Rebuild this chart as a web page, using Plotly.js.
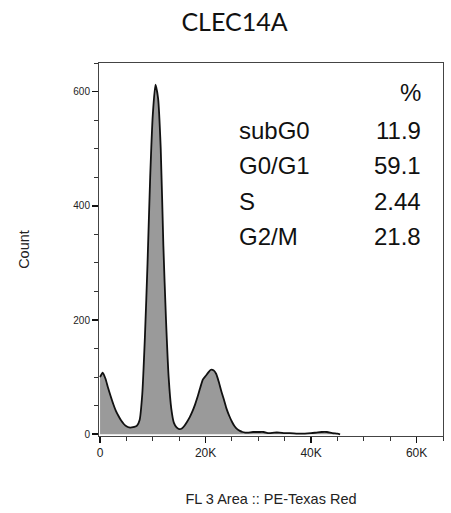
<!DOCTYPE html>
<html>
<head>
<meta charset="utf-8">
<script src="https://cdn.plot.ly/plotly-3.0.1.min.js"></script>
<style>html,body{margin:0;padding:0;background:#fff;}#chart{width:451px;height:513px;}</style>
</head>
<body>
<div id="chart"></div>
<script>
// Fluorescence channel (FL 3 Area), in raw units
const fluorescence = [0,500,1000,1500,2000,2500,3000,3500,4000,4500,5000,5500,6000,6500,7000,7500,8000,8500,9000,9500,10000,10500,11000,11500,12000,12500,13000,13500,14000,14500,15000,15500,16000,16500,17000,17500,18000,18500,19000,19500,20000,20500,21000,21500,22000,22500,23000,23500,24000,24500,25000,25500,26000,26500,27000,27500,28000,29000,30000,31000,32000,33000,34000,35000,36000,38000,40000,41000,42000,43000,44000,45000,45500];
// Cell counts per channel
const counts = [100,108,98,82,67,53,41,32,24,18,14,12,12,13,15,25,70,170,300,450,560,612,588,500,330,200,100,45,20,12,9,10,15,22,30,40,52,66,82,96,102,108,113,112,106,92,75,60,44,32,22,14,9,6,4,3,3,4,4,4,2,3,3,2,2,1,2,3,4,4,2,1,0];
// Cell-cycle phase percentages
const phases = ["subG0","G0/G1","S","G2/M"];
const percents = ["11.9","59.1","2.44","21.8"];
const xTickVals = [0,20000,40000,60000];
const xTickText = ["0","20K","40K","60K"];
const yTickVals = [0,200,400,600];

const trace = {
  x: fluorescence, y: counts, type: 'scatter', mode: 'lines',
  line: {color: '#111', width: 1.8, shape: 'spline', smoothing: 0.6},
  fill: 'tozeroy', fillcolor: '#9a9a9a', hoverinfo: 'skip'
};

const txtFont = {family: 'Liberation Sans, Arial, sans-serif', size: 24, color: '#111'};
const annotations = [{
  text: '%', xref: 'paper', yref: 'paper', x: 0.942, y: 0.922,
  xanchor: 'right', yanchor: 'middle', showarrow: false, font: txtFont
}];
const rowY = [0.818, 0.724, 0.630, 0.534];
phases.forEach((p, i) => {
  annotations.push({text: p, xref: 'paper', yref: 'paper', x: 0.4, y: rowY[i],
    xanchor: 'left', yanchor: 'middle', showarrow: false, font: txtFont});
  annotations.push({text: percents[i], xref: 'paper', yref: 'paper', x: 0.942, y: rowY[i],
    xanchor: 'right', yanchor: 'middle', showarrow: false, font: txtFont});
});

const layout = {
  width: 451, height: 513,
  margin: {l: 99, r: 8, t: 63, b: 77},
  paper_bgcolor: '#fff', plot_bgcolor: '#fff',
  showlegend: false,
  title: {text: 'CLEC14A', x: 0.52, xanchor: 'center', y: 0.957, yanchor: 'middle',
    font: {family: 'Lato, sans-serif', size: 25, color: '#111'}},
  xaxis: {
    range: [-200, 65000], tickvals: xTickVals, ticktext: xTickText,
    ticks: 'outside', ticklen: 6, tickwidth: 1.6, tickcolor: '#111',
    minor: {dtick: 5000, tick0: 0, ticks: 'outside', ticklen: 4, tickwidth: 1, tickcolor: '#333', showgrid: false},
    showgrid: false, zeroline: false, showline: true, mirror: true, linecolor: '#444', linewidth: 1,
    tickfont: {family: 'Liberation Sans, Arial, sans-serif', size: 12, color: '#222'},
    title: {text: 'FL 3 Area :: PE-Texas Red', standoff: 34,
      font: {family: 'Liberation Sans, Arial, sans-serif', size: 14.5, color: '#222'}}
  },
  yaxis: {
    range: [-3, 650], tickvals: yTickVals,
    ticks: 'outside', ticklen: 6, tickwidth: 1.6, tickcolor: '#111',
    minor: {dtick: 50, tick0: 0, ticks: 'outside', ticklen: 4, tickwidth: 1, tickcolor: '#333', showgrid: false},
    showgrid: false, zeroline: false, showline: true, mirror: true, linecolor: '#444', linewidth: 1,
    tickfont: {family: 'Liberation Sans, Arial, sans-serif', size: 10, color: '#222'},
    title: {text: 'Count', standoff: 40,
      font: {family: 'Liberation Sans, Arial, sans-serif', size: 14.5, color: '#222'}}
  },
  annotations: annotations
};

Plotly.newPlot('chart', [trace], layout, {displayModeBar: false, staticPlot: true});
</script>
</body>
</html>
